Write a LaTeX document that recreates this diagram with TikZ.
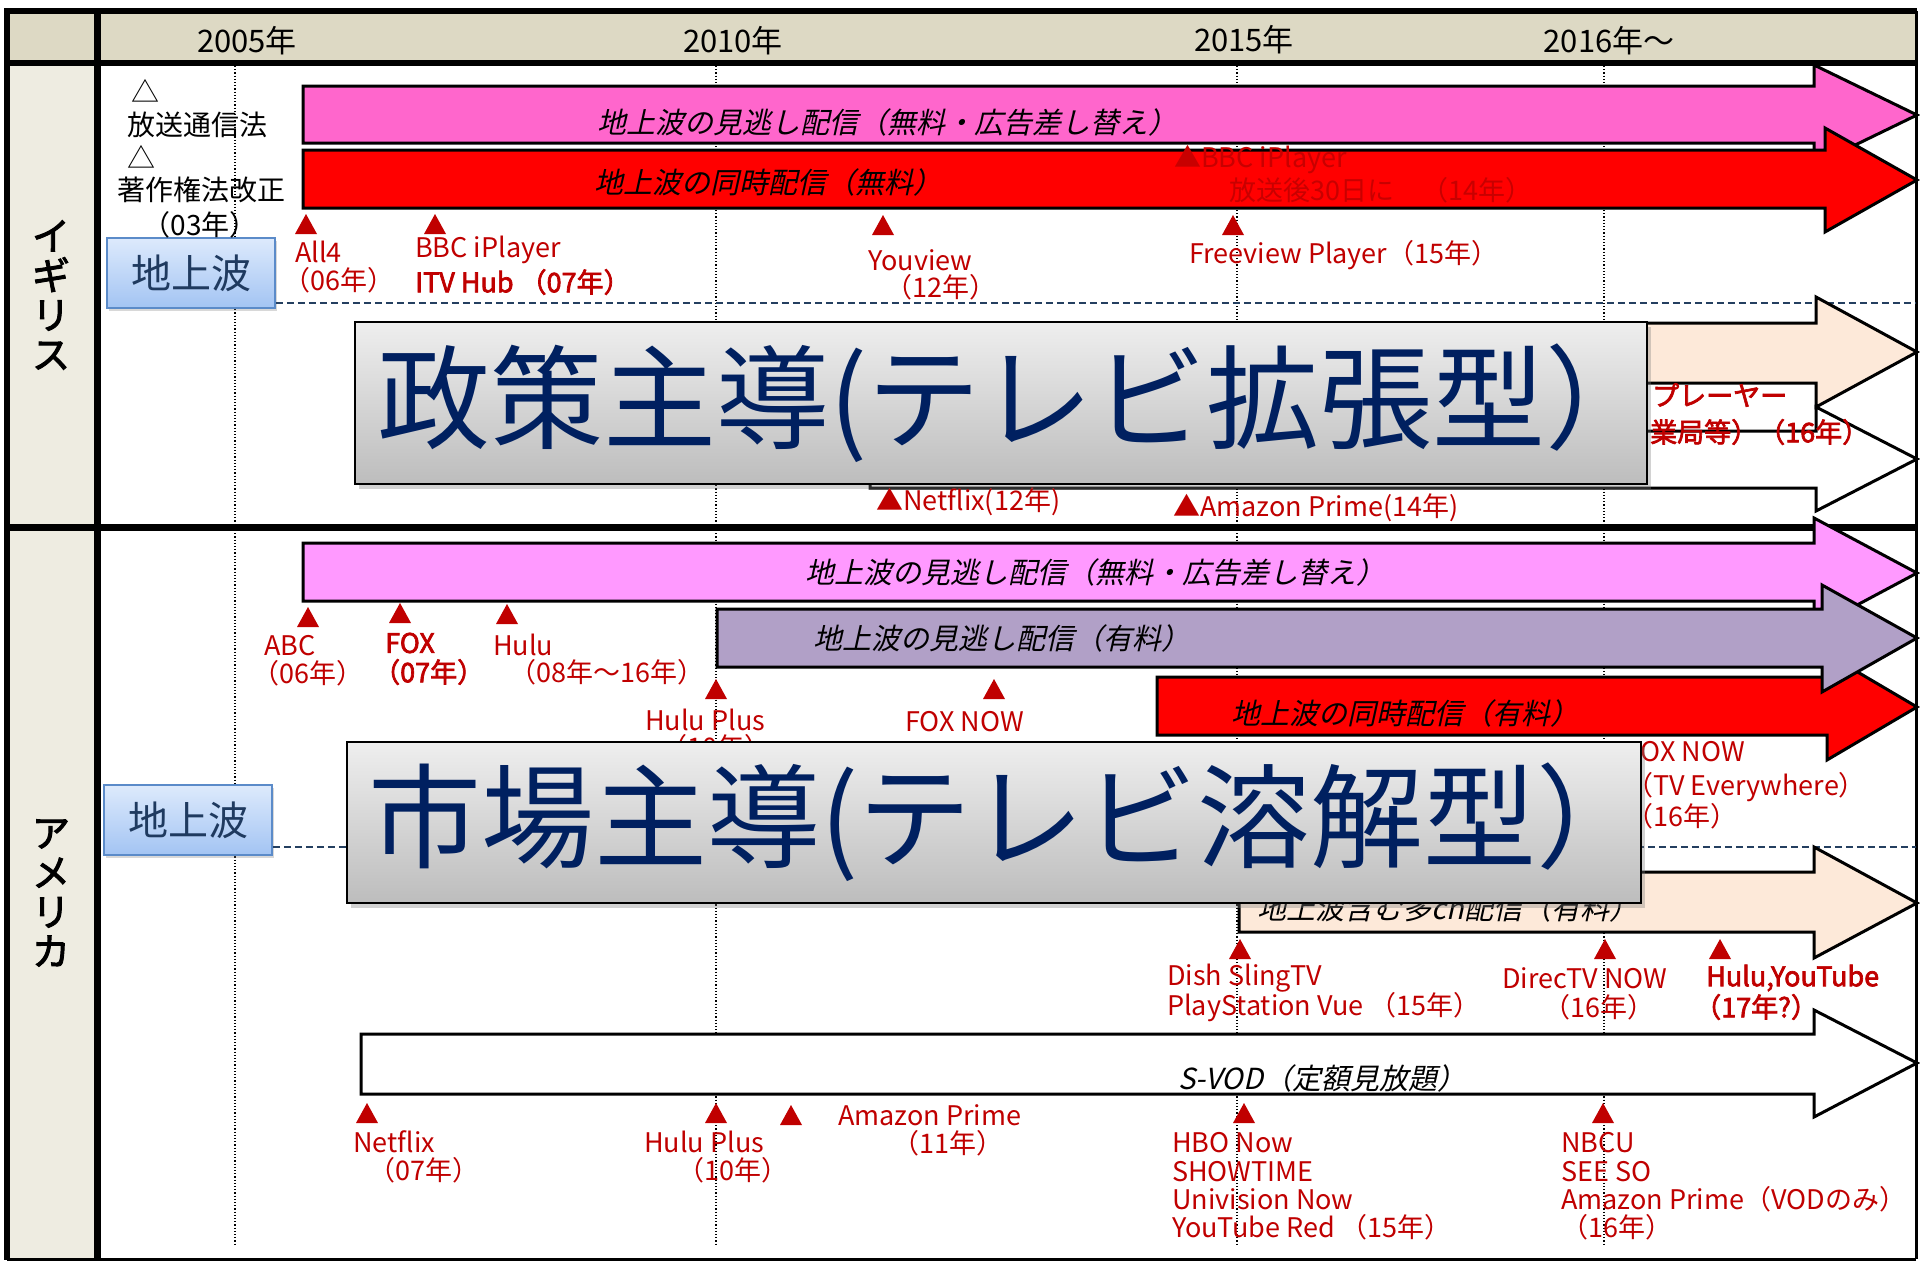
\documentclass[tikz,border=0pt]{standalone}
\usepackage{fontspec}
\setmainfont{Noto Sans CJK JP}[AutoFakeBold=2.5,AutoFakeSlant=0.22]
\usetikzlibrary{shadows}
\definecolor{hdr}{HTML}{DDD9C4}
\definecolor{side}{HTML}{EEECE1}
\definecolor{pinkA}{HTML}{FF66CC}
\definecolor{pinkB}{HTML}{FF99FF}
\definecolor{purp}{HTML}{B1A0C7}
\definecolor{peach}{HTML}{FDE9D9}
\definecolor{mkred}{HTML}{C00000}
\definecolor{navy}{HTML}{002060}
\definecolor{dashc}{HTML}{243F60}
\definecolor{gbtop}{HTML}{DDEAFC}
\definecolor{gbbot}{HTML}{A3C4F3}
\definecolor{gbline}{HTML}{5B8BC9}
\definecolor{gbtext}{HTML}{1F3A5F}
\definecolor{faded}{HTML}{C80000}
\tikzset{
 gridl/.style={line width=1.2pt, dash pattern=on 1.2pt off 2pt, black},
 dashl/.style={line width=2.2pt, dashc, dash pattern=on 7pt off 4pt},
 arr/.style={draw=black, line width=3pt, line join=miter},
 mkfill/.style={fill=mkred},
 lab/.style={text=mkred, font=\fontsize{27}{30}\selectfont, inner sep=0pt, anchor=west},
 blab/.style={text=mkred, font=\fontsize{27}{30}\selectfont\bfseries, inner sep=0pt, anchor=west},
 blk/.style={text=black, font=\fontsize{28}{30}\selectfont, inner sep=0pt},
 yr/.style={text=black, font=\fontsize{31}{32}\selectfont, inner sep=0pt},
 band/.style={text=black, font=\fontsize{29}{30}\selectfont\itshape, inner sep=0pt},
 country/.style={text=black, font=\fontsize{38}{39.5}\selectfont\bfseries, align=center, inner sep=0pt},
 gbox/.style={draw=gbline, line width=1.5pt, top color=gbtop, bottom color=gbbot, text=gbtext, font=\fontsize{40}{44}\selectfont, inner sep=0pt, minimum width=168pt, minimum height=70pt, drop shadow={shadow xshift=2pt, shadow yshift=-3pt, opacity=0.3}},
 bigbox/.style={draw=black, line width=2pt, top color=gray!13, bottom color=gray!52, inner sep=0pt, drop shadow={shadow xshift=4pt, shadow yshift=-5pt, opacity=0.35}},
 bigtext/.style={text=navy, font=\fontsize{113}{118}\selectfont, inner sep=0pt},
}
\newcommand\mkr[2]{\fill[mkfill] (#1-11,#2+10) -- (#1+11,#2+10) -- (#1,#2-10) -- cycle;}
\begin{document}
\begin{tikzpicture}[x=1pt,y=-1pt]
\useasboundingbox (0,0) rectangle (1920,1261);
\fill[white] (0,0) rectangle (1920,1261);
% backgrounds
\fill[hdr] (7,11) rectangle (1916,63);
\fill[side] (7,63) rectangle (97,1259);
% grid
\foreach \gx in {235,716,1237,1604} \draw[gridl] (\gx,66) -- (\gx,1246);
% frame
\draw[line width=6pt] (4,11) -- (1917,11);
\draw[line width=6pt] (7,8) -- (7,1260);
\draw[line width=3pt] (1916,11) -- (1916,1259);
\draw[line width=3pt] (7,1259) -- (1916,1259);
\draw[line width=6pt] (7,63) -- (1916,63);
\draw[line width=7pt] (97,11) -- (97,1259);
\draw[line width=7pt] (7,527) -- (1916,527);
% years
\node[yr] (y2005) at (247,41) {2005年};
\node[yr] (y2010) at (733,41) {2010年};
\node[yr] (y2015) at (1244,40) {2015年};
\node[yr] (y2016) at (1609,41) {2016年〜};
% countries
\node[country] (uk) at (51,295) {イ\\ギ\\リ\\ス};
\node[country] (us) at (51,893) {ア\\メ\\リ\\カ};
% terrestrial boxes
\node[gbox] (ukgb) at (191,273) {地上波};
\node[gbox] (usgb) at (188,820) {地上波};
\coordinate (ukd) at (1916,303);
\coordinate (usd) at (1916,847);
\draw[dashl] (ukgb.south east |- ukd) -- (ukd);
\draw[dashl] (usgb.south east |- usd) -- (usd);
% UK annotations
\node[blk] (tri1) at (145,91) {△};
\node[blk] (law1) at (197,125) {放送通信法};
\node[blk] (tri2) at (141,157) {△};
\node[blk] (law2) at (201,190) {著作権法改正};
\node[blk] (law3) at (200,225) {（03年）};
% UK arrows
\draw[arr, fill=pinkA] (303,86) -- (1814,86) -- (1814,65) -- (1917,115) -- (1814,165) -- (1814,143) -- (303,143) -- cycle;
\draw[arr, fill=red] (303,150) -- (1825,150) -- (1825,128) -- (1917,180) -- (1825,232) -- (1825,208) -- (303,208) -- cycle;
\draw[arr, fill=peach] (1000,323) -- (1816,323) -- (1816,297) -- (1917,352) -- (1816,407) -- (1816,383) -- (1000,383) -- cycle;
\draw[arr, fill=white] (870,431) -- (1816,431) -- (1816,407) -- (1917,459) -- (1816,511) -- (1816,488) -- (870,488) -- cycle;
\node[band] (ukb1) at (887,122) {地上波の見逃し配信（無料・広告差し替え）};
\node[band] (ukb2) at (768,182) {地上波の同時配信（無料）};
% US arrows
\draw[arr, fill=pinkB] (303,543) -- (1814,543) -- (1814,518) -- (1917,573) -- (1814,628) -- (1814,601) -- (303,601) -- cycle;
\draw[arr, fill=red] (1157,677) -- (1827,677) -- (1827,654) -- (1917,707) -- (1827,760) -- (1827,735) -- (1157,735) -- cycle;
\draw[arr, fill=purp] (717,609) -- (1822,609) -- (1822,585) -- (1917,638) -- (1822,692) -- (1822,667) -- (717,667) -- cycle;
\draw[arr, fill=peach] (1239,872) -- (1814,872) -- (1814,847) -- (1917,903) -- (1814,958) -- (1814,932) -- (1239,932) -- cycle;
\draw[arr, fill=white] (361,1034) -- (1814,1034) -- (1814,1010) -- (1917,1063) -- (1814,1117) -- (1814,1094) -- (361,1094) -- cycle;
\node[band] (usb1) at (1095,572) {地上波の見逃し配信（無料・広告差し替え）};
\node[band] (usb2) at (1002,638) {地上波の見逃し配信（有料）};
\node[band] (usb3) at (1405,713) {地上波の同時配信（有料）};
\node[band] (usb4) at (1448,908) {地上波含む多ch配信（有料）};
\node[band] (usb5) at (1322,1078) {S-VOD（定額見放題）};
% markers
\mkr{306}{224} \mkr{435}{224} \mkr{883}{225} \mkr{1233}{225}
\mkr{308}{617} \mkr{400}{613} \mkr{507}{614} \mkr{716}{689} \mkr{994}{689}
\mkr{1240}{949} \mkr{1605}{949} \mkr{1720}{949}
\mkr{367}{1113} \mkr{716}{1113} \mkr{791}{1115} \mkr{1244}{1113} \mkr{1603}{1113}
% UK labels
\node[lab] (ukl1a) at (295,252) {All4};
\node[lab] (ukl1b) at (283,280) {（06年）};
\node[lab] (ukl2a) at (415,250) {BBC iPlayer};
\node[blab] (ukl2b) at (415,282) {ITV Hub （07年）};
\node[lab] (ukl3a) at (868,260) {Youview};
\node[lab] (ukl3b) at (885,287) {（12年）};
\node[lab] (ukl4) at (1189,255) {Freeview Player（15年）};
\node[lab, text=faded] (ukf1) at (1174,160) {▲BBC iPlayer};
\node[lab, text=faded] (ukf2) at (1229,190) {放送後30日に　（14年）};
\node[blab] (ukl5a) at (1652,395) {プレーヤー};
\node[blab] (ukl5b) at (1650,432) {業局等）（16年）};
\node[lab] (ukl6) at (876,502) {▲Netflix(12年)};
\node[lab] (ukl7) at (1173,508) {▲Amazon Prime(14年)};
% US labels
\node[lab] (usl1a) at (264,646) {ABC};
\node[lab] (usl1b) at (252,673) {（06年）};
\node[blab] (usl2a) at (385,643) {FOX};
\node[blab] (usl2b) at (373,672) {（07年）};
\node[lab] (usl3a) at (493,645) {Hulu};
\node[lab] (usl3b) at (509,672) {（08年〜16年）};
\node[lab] (usl4a) at (645,720) {Hulu Plus};
\node[lab] (usl4b) at (660,747) {（10年）};
\node[lab] (usl5) at (905,722) {FOX NOW};
\node[lab] (usl6a) at (1626,752) {FOX NOW};
\node[lab] (usl6b) at (1626,787) {（TV Everywhere）};
\node[lab] (usl6c) at (1626,816) {（16年）};
\node[lab] (usl7a) at (1167,978) {Dish SlingTV};
\node[lab] (usl7b) at (1167,1007) {PlayStation Vue （15年）};
\node[lab] (usl8a) at (1502,978) {DirecTV NOW};
\node[lab] (usl8b) at (1543,1007) {（16年）};
\node[blab] (usl9a) at (1706,978) {Hulu,YouTube};
\node[blab] (usl9b) at (1694,1007) {（17年?）};
\node[lab] (usl10a) at (353,1142) {Netflix};
\node[lab] (usl10b) at (368,1170) {（07年）};
\node[lab] (usl11a) at (644,1142) {Hulu Plus};
\node[lab] (usl11b) at (677,1170) {（10年）};
\node[lab] (usl12a) at (838,1115) {Amazon Prime};
\node[lab] (usl12b) at (892,1143) {（11年）};
\node[lab] (usl13a) at (1172,1143) {HBO Now};
\node[lab] (usl13b) at (1172,1172) {SHOWTIME};
\node[lab] (usl13c) at (1172,1199) {Univision Now};
\node[lab] (usl13d) at (1172,1227) {YouTube Red （15年）};
\node[lab] (usl14a) at (1561,1143) {NBCU};
\node[lab] (usl14b) at (1561,1172) {SEE SO};
\node[lab] (usl14c) at (1561,1199) {Amazon Prime（VODのみ）};
\node[lab] (usl14d) at (1561,1227) {（16年）};
% overlay boxes
\node[bigbox, minimum width=1292pt, minimum height=162pt] (ukpol) at (1001,403) {};
\node[bigtext] (ukpoltxt) at (ukpol.center) [xshift=17pt] {政策主導(テレビ拡張型）};
\node[bigbox, minimum width=1294pt, minimum height=161pt] (uspol) at (994,822.5) {};
\node[bigtext] (uspoltxt) at (uspol.center) [xshift=15pt] {市場主導(テレビ溶解型）};
\end{tikzpicture}
\end{document}
